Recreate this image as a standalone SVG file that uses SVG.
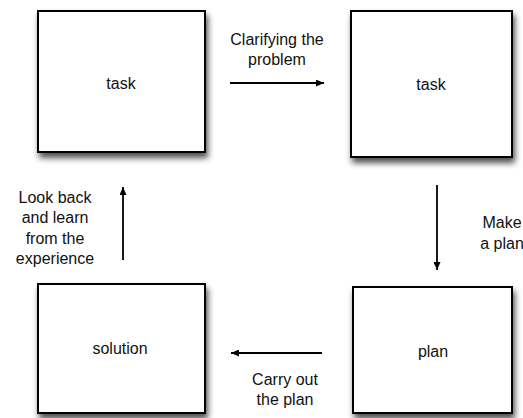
<svg xmlns="http://www.w3.org/2000/svg" width="523" height="418" viewBox="0 0 523 418">
<defs>
<filter id="sh" x="-10%" y="-10%" width="130%" height="130%">
<feGaussianBlur in="SourceAlpha" stdDeviation="3"/>
<feOffset dx="2" dy="5" result="b"/>
<feComponentTransfer><feFuncA type="linear" slope="0.7"/></feComponentTransfer>
<feMerge><feMergeNode/><feMergeNode in="SourceGraphic"/></feMerge>
</filter>
<marker id="ah" viewBox="0 0 10 10" refX="10" refY="5" markerWidth="8" markerHeight="7" markerUnits="userSpaceOnUse" orient="auto" preserveAspectRatio="none">
<path d="M0,0 L10,5 L0,10 Z" fill="#000"/>
</marker>
</defs>
<style>
.box{fill:#fff;stroke:#000;stroke-width:2;filter:url(#sh)}
.t{font-family:"Liberation Sans",Arial,sans-serif;font-size:16px;fill:#111;text-anchor:middle}
.c{stroke:#000;stroke-width:1.8;fill:none;marker-end:url(#ah)}
</style>
<rect width="523" height="418" fill="#fff"/>
<g id="task1"><rect class="box" x="38" y="11" width="167" height="141"/><text class="t" x="121" y="89">task</text></g>
<g id="task2"><rect class="box" x="351" y="11" width="161" height="146"/><text class="t" x="431" y="90">task</text></g>
<g id="solution"><rect class="box" x="38" y="284" width="167" height="129"/><text class="t" x="120" y="354">solution</text></g>
<g id="plan"><rect class="box" x="353" y="287" width="159" height="126"/><text class="t" x="433" y="357">plan</text></g>
<g id="connectors">
<line class="c" x1="230" y1="83" x2="324" y2="83"/>
<line class="c" x1="437" y1="185" x2="437" y2="270"/>
<line class="c" x1="322" y1="353" x2="231" y2="353"/>
<line class="c" x1="123" y1="260" x2="123" y2="187"/>
</g>
<g id="labels">
<text class="t" x="277" y="45">Clarifying the</text>
<text class="t" x="277" y="65">problem</text>
<text class="t" x="502" y="228">Make</text>
<text class="t" x="502" y="249">a plan</text>
<text class="t" x="285" y="385">Carry out</text>
<text class="t" x="285" y="405">the plan</text>
<text class="t" x="55" y="203">Look back</text>
<text class="t" x="55" y="223">and learn</text>
<text class="t" x="55" y="244">from the</text>
<text class="t" x="55" y="264">experience</text>
</g>
</svg>
